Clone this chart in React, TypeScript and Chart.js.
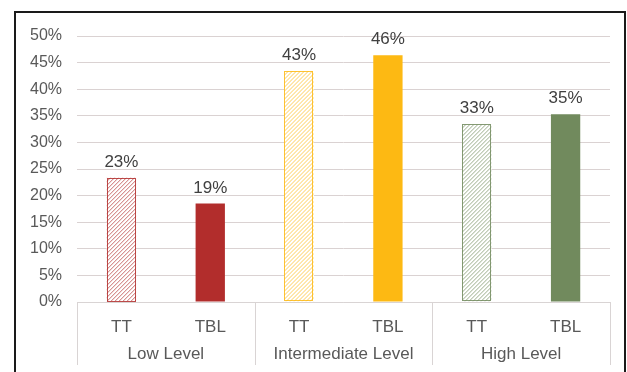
import React, { useEffect, useRef } from 'react';
import { Chart, registerables } from 'chart.js';

Chart.register(...registerables);

const groupLabels = ['Low Level', 'Intermediate Level', 'High Level'];
const categories = ['TT', 'TBL', 'TT', 'TBL', 'TT', 'TBL'];
const values = [23.4, 18.5, 43.4, 46.4, 33.4, 35.3];
const groupColors = ['#B22D2C', '#FDB913', '#718A5D'];
const yMax = 50;
const yStep = 5;

const FONT = '"Liberation Sans", Arial, sans-serif';

const hatchPlugin = {
  id: 'hatch',
  afterDatasetsDraw(chart: any) {
    const { ctx } = chart;
    const meta = chart.getDatasetMeta(0);
    meta.data.forEach((el: any, i: number) => {
      if (categories[i] !== 'TT') return;
      const col = groupColors[Math.floor(i / 2)];
      const half = el.width / 2;
      const x0 = el.x - half;
      const x1 = el.x + half;
      const y0 = el.y;
      const y1 = el.base;
      ctx.save();
      ctx.beginPath();
      ctx.rect(x0, y0, x1 - x0, y1 - y0);
      ctx.clip();
      ctx.fillStyle = '#ffffff';
      ctx.fillRect(x0, y0, x1 - x0, y1 - y0);
      ctx.strokeStyle = col;
      ctx.globalAlpha = 0.7;
      ctx.lineWidth = 1;
      ctx.beginPath();
      const h = y1 - y0;
      const step = 4;
      for (let s = x0 - h - step; s < x1 + step; s += step) {
        ctx.moveTo(s, y1);
        ctx.lineTo(s + h, y0);
      }
      ctx.stroke();
      ctx.restore();
      ctx.save();
      ctx.strokeStyle = col;
      ctx.globalAlpha = 0.85;
      ctx.lineWidth = 1;
      ctx.strokeRect(Math.round(x0) + 0.5, Math.round(y0) + 0.5, Math.round(x1 - x0) - 1, Math.round(y1 - y0) - 1);
      ctx.restore();
    });
  },
};

const groupAxisPlugin = {
  id: 'groupAxis',
  afterDraw(chart: any) {
    const { ctx, chartArea } = chart;
    const left = chartArea.left;
    const right = chartArea.right;
    const top = chartArea.bottom;
    const bottom = 365;
    const w = (right - left) / groupLabels.length;
    ctx.save();
    ctx.strokeStyle = '#d9d4d4';
    ctx.lineWidth = 1;
    ctx.beginPath();
    ctx.moveTo(left, top + 0.5);
    ctx.lineTo(right, top + 0.5);
    for (let i = 0; i <= groupLabels.length; i++) {
      const x = Math.round(left + i * w) + 0.5;
      ctx.moveTo(x, top);
      ctx.lineTo(x, bottom);
    }
    ctx.stroke();
    ctx.fillStyle = '#595959';
    ctx.font = `17px ${FONT}`;
    ctx.textAlign = 'center';
    ctx.textBaseline = 'middle';
    groupLabels.forEach((g, i) => {
      ctx.fillText(g, left + (i + 0.5) * w, 354);
    });
    ctx.restore();
  },
};

const dataLabelPlugin = {
  id: 'dataLabels',
  afterDatasetsDraw(chart: any) {
    const { ctx } = chart;
    const meta = chart.getDatasetMeta(0);
    ctx.save();
    ctx.fillStyle = '#404040';
    ctx.font = `17px ${FONT}`;
    ctx.textAlign = 'center';
    ctx.textBaseline = 'alphabetic';
    meta.data.forEach((el: any, i: number) => {
      ctx.fillText(Math.round(values[i]) + '%', el.x, el.y - 11);
    });
    ctx.restore();
  },
};

export default function App() {
  const ref = useRef<HTMLCanvasElement | null>(null);

  useEffect(() => {
    if (!ref.current) return;
    const bg = categories.map((c, i) => (c === 'TT' ? '#ffffff' : groupColors[Math.floor(i / 2)]));
    const chart = new Chart(ref.current, {
      type: 'bar',
      data: {
        labels: categories,
        datasets: [
          {
            data: values,
            backgroundColor: bg,
            borderWidth: 0,
            barPercentage: 0.33,
            categoryPercentage: 1,
          },
        ],
      },
      options: {
        animation: false,
        responsive: false,
        maintainAspectRatio: false,
        layout: { padding: { left: 20, right: 17, top: 36, bottom: 0 } },
        plugins: {
          legend: { display: false },
          tooltip: { enabled: false },
        },
        scales: {
          x: {
            grid: { display: false, drawTicks: false },
            border: { display: false },
            ticks: {
              color: '#595959',
              font: { family: FONT, size: 17 },
              padding: 15,
              maxRotation: 0,
            },
            afterFit(scale: any) {
              scale.height = 70;
            },
          },
          y: {
            min: 0,
            max: yMax,
            grid: { color: '#dad2d2', drawTicks: false, lineWidth: 1 },
            border: { display: false },
            ticks: {
              stepSize: yStep,
              color: '#595959',
              font: { family: FONT, size: 16 },
              padding: 15,
              callback: (v: any) => v + '%',
            },
            afterFit(scale: any) {
              scale.width = 57;
            },
          },
        },
      },
      plugins: [hatchPlugin, dataLabelPlugin, groupAxisPlugin],
    });
    return () => chart.destroy();
  }, []);

  return (
    <div
      style={{
        position: 'absolute',
        left: 0,
        top: 0,
        width: 627,
        height: 372,
        overflow: 'hidden',
        background: '#ffffff',
      }}
    >
      <div
        style={{
          position: 'absolute',
          left: 14,
          top: 11,
          width: 608,
          height: 420,
          border: '2px solid #1a1a1a',
        }}
      />
      <canvas
        ref={ref}
        width={627}
        height={372}
        style={{ position: 'absolute', left: 0, top: 0, width: 627, height: 372 }}
      />
    </div>
  );
}
